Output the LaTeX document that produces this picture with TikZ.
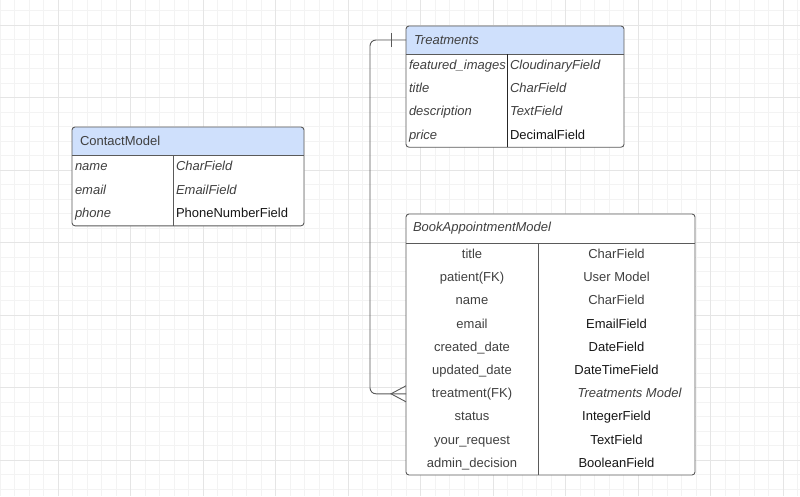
\documentclass[tikz,border=0pt]{standalone}
\usepackage{fontspec}
\setmainfont{Liberation Sans}
\usetikzlibrary{positioning, backgrounds}
\definecolor{headblue}{HTML}{CFE0FC}
\definecolor{framegray}{HTML}{5A5A5A}
\definecolor{textgray}{HTML}{404040}
\definecolor{textdark}{HTML}{161616}
\definecolor{minorline}{HTML}{F3F3F3}
\definecolor{majorline}{HTML}{E5E5E5}
\tikzstyle{headcell} = [rectangle, anchor=north west,
inner ysep=0pt, outer sep=0pt,
minimum height=28pt, 
align=left, 
text=textgray, 
font=\fontsize{13}{15}\selectfont]
\tikzstyle{keycell} = [rectangle, inner xsep=3pt, inner ysep=0pt, outer sep=0pt,
minimum height=23.3pt, 
text height=7.3pt, text depth=0pt, 
align=left, 
text=textgray, 
font=\fontsize{13}{15}\selectfont]
\tikzstyle{midcell} = [rectangle, inner sep=0pt, outer sep=0pt,
minimum height=23.2pt, 
text height=7.6pt, text depth=0pt, 
text=textgray, 
font=\fontsize{13}{15}\selectfont]
\tikzstyle{tabline} = [draw=framegray, line width=0.9pt]
\tikzstyle{connline} = [draw=framegray, line width=0.9pt]

\begin{document}
\begin{tikzpicture}[x=1pt, y=-1pt]
	\useasboundingbox (0,0) rectangle (800,496);
	
	% Treatments
	\node (trhead) [headcell, text width=202pt, inner xsep=8pt] at (406,26) {\itshape Treatments};
	\node (trk1) [keycell, text width=95pt, below right=0pt and 0pt of trhead.south west] {\itshape featured\_images};
	\node (trk2) [keycell, text width=95pt, below=0pt of trk1] {\itshape title};
	\node (trk3) [keycell, text width=95pt, below=0pt of trk2] {\itshape description};
	\node (trk4) [keycell, text width=95pt, below=0pt of trk3] {\itshape price};
	\node (trv1) [keycell, text width=111pt, right=0pt of trk1] {\itshape CloudinaryField};
	\node (trv2) [keycell, text width=111pt, right=0pt of trk2] {\itshape CharField};
	\node (trv3) [keycell, text width=111pt, right=0pt of trk3] {\itshape TextField};
	\node (trv4) [keycell, text width=111pt, right=0pt of trk4, text=textdark] {DecimalField};
	
	% ContactModel
	\node (cohead) [headcell, text width=216pt, inner xsep=8pt] at (72,127) {ContactModel};
	\node (cok1) [keycell, text width=95pt, minimum height=23.6pt, below right=0pt and 0pt of cohead.south west] {\itshape name};
	\node (cok2) [keycell, text width=95pt, minimum height=23.6pt, below=0pt of cok1] {\itshape email};
	\node (cok3) [keycell, text width=95pt, minimum height=23.6pt, below=0pt of cok2] {\itshape phone};
	\node (cov1) [keycell, text width=125pt, minimum height=23.6pt, right=0pt of cok1] {\itshape CharField};
	\node (cov2) [keycell, text width=125pt, minimum height=23.6pt, right=0pt of cok2] {\itshape EmailField};
	\node (cov3) [keycell, text width=125pt, minimum height=23.6pt, right=0pt of cok3, text=textdark] {PhoneNumberField};
	
	% BookAppointmentModel
	\node (bkhead) [headcell, text width=275pt, inner xsep=7pt, minimum height=29pt] at (406,214) {\itshape BookAppointmentModel};
	\node (bkk1) [midcell, minimum width=132pt, below right=0pt and 0pt of bkhead.south west] {title};
	\node (bkk2) [midcell, minimum width=132pt, below=0pt of bkk1] {patient(FK)};
	\node (bkk3) [midcell, minimum width=132pt, below=0pt of bkk2] {name};
	\node (bkk4) [midcell, minimum width=132pt, below=0pt of bkk3] {email};
	\node (bkk5) [midcell, minimum width=132pt, below=0pt of bkk4] {created\_date};
	\node (bkk6) [midcell, minimum width=132pt, below=0pt of bkk5] {updated\_date};
	\node (bkk7) [midcell, minimum width=132pt, below=0pt of bkk6] {treatment(FK)};
	\node (bkk8) [midcell, minimum width=132pt, below=0pt of bkk7] {status};
	\node (bkk9) [midcell, minimum width=132pt, below=0pt of bkk8] {your\_request};
	\node (bkk10) [midcell, minimum width=132pt, below=0pt of bkk9] {admin\_decision};
	\node (bkv1) [midcell, minimum width=157pt, right=0pt of bkk1] {CharField};
	\node (bkv2) [midcell, minimum width=157pt, right=0pt of bkk2] {User Model};
	\node (bkv3) [midcell, minimum width=157pt, right=0pt of bkk3] {CharField};
	\node (bkv4) [midcell, minimum width=157pt, right=0pt of bkk4, text=textdark] {EmailField};
	\node (bkv5) [midcell, minimum width=157pt, right=0pt of bkk5, text=textdark] {DateField};
	\node (bkv6) [midcell, minimum width=157pt, right=0pt of bkk6, text=textdark] {DateTimeField};
	\node (bkv7) [midcell, minimum width=157pt, right=0pt of bkk7, xshift=13pt] {\itshape Treatments Model};
	\node (bkv8) [midcell, minimum width=157pt, right=0pt of bkk8, text=textdark] {IntegerField};
	\node (bkv9) [midcell, minimum width=157pt, right=0pt of bkk9, text=textdark] {TextField};
	\node (bkv10) [midcell, minimum width=157pt, right=0pt of bkk10, text=textdark] {BooleanField};
	
	% grid and fills behind the tables
	\begin{scope}[on background layer]
		\fill[white] (0,0) rectangle (800,496);
		\draw[minorline, line width=0.8pt, step=14.5pt, yshift=-10.5pt] (0pt,10.5pt) grid (800pt,-485.5pt);
		\draw[majorline, line width=0.8pt, step=72.5pt, xshift=58pt, yshift=-25pt] (-58pt,25pt) grid (742pt,-471pt);
		\fill[white, rounded corners=3pt] (trhead.north west) rectangle (trv4.south east);
		\fill[white, rounded corners=3pt] (cohead.north west) rectangle (cov3.south east);
		\fill[white, rounded corners=3pt] (bkhead.north west) rectangle (bkk10.south west -| bkhead.east);
		\begin{scope}
			\clip[rounded corners=3pt] (trhead.north west) rectangle (trv4.south east);
			\fill[headblue] (trhead.north west) rectangle (trhead.south east);
		\end{scope}
		\begin{scope}
			\clip[rounded corners=3pt] (cohead.north west) rectangle (cov3.south east);
			\fill[headblue] (cohead.north west) rectangle (cohead.south east);
		\end{scope}
	\end{scope}
	
	% frames
	\draw[tabline, rounded corners=3pt] (trhead.north west) rectangle (trv4.south east);
	\draw[tabline] (trhead.south west) -- (trhead.south east);
	\draw[tabline, draw=black!85] (trk1.north east) -- (trk4.south east);
	\draw[tabline, rounded corners=3pt] (cohead.north west) rectangle (cov3.south east);
	\draw[tabline] (cohead.south west) -- (cohead.south east);
	\draw[tabline] (cok1.north east) -- (cok3.south east);
	\draw[tabline, rounded corners=3pt] (bkhead.north west) rectangle (bkk10.south west -| bkhead.east);
	\draw[tabline] (bkhead.south west) -- (bkhead.south east);
	\draw[tabline] (bkk1.north east) -- (bkk10.south east);
	
	% relation
	\draw[connline, rounded corners=6pt] (trhead.west) -- ++(-36,0) |- (bkk7.west);
	\draw[connline] ([xshift=-15pt, yshift=7pt]trhead.west) -- ([xshift=-15pt, yshift=-7pt]trhead.west);
	\draw[connline] ([yshift=8pt]bkk7.west) -- ([xshift=-15pt]bkk7.west) -- ([yshift=-8pt]bkk7.west);
\end{tikzpicture}
\end{document}
